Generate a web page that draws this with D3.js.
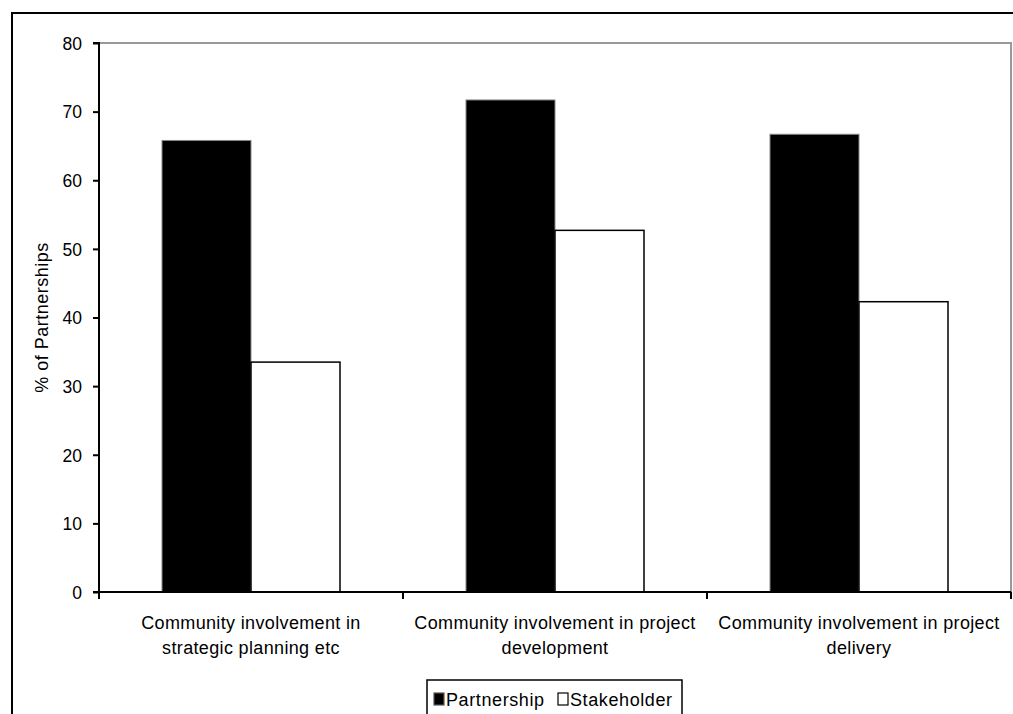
<!DOCTYPE html>
<html>
<head>
<meta charset="utf-8">
<script src="https://cdn.jsdelivr.net/npm/d3@7"></script>
<style>
  html, body { margin: 0; padding: 0; background: #fff; }
  svg { display: block; font-family: "Liberation Sans", Arial, sans-serif; }
</style>
</head>
<body>
<svg id="chart" width="1013" height="714"></svg>
<script>
// Share of partnerships reporting each type of community involvement
const categories = [
  ["Community involvement in", "strategic planning etc"],
  ["Community involvement in project", "development"],
  ["Community involvement in project", "delivery"]
];
const seriesNames = ["Partnership", "Stakeholder"];
const partnership = [65.8, 71.7, 66.7];
const stakeholder = [33.5, 52.7, 42.3];
const yTicks = [0, 10, 20, 30, 40, 50, 60, 70, 80];

const svg = d3.select("#chart");
const plot = { left: 99, right: 1011, top: 43, bottom: 592 };

// Outer chart frame (extends past the visible window)
svg.append("rect")
  .attr("x", 12).attr("y", 13)
  .attr("width", 1040).attr("height", 760)
  .attr("fill", "none").attr("stroke", "#000").attr("stroke-width", 2);

const x = d3.scaleBand()
  .domain(d3.range(categories.length))
  .range([plot.left, plot.right])
  .paddingInner(0).paddingOuter(0);

const y = d3.scaleLinear().domain([0, 80]).range([plot.bottom, plot.top]);

// Plot area border (grey top and right edges)
svg.append("path")
  .attr("d", `M${plot.left},${plot.top}H${plot.right}V${plot.bottom}`)
  .attr("fill", "none").attr("stroke", "#999").attr("stroke-width", 2);

const gap = 63;
const barW = (x.bandwidth() - 2 * gap) / 2;

const groups = svg.append("g").selectAll("g")
  .data(d3.range(categories.length))
  .join("g");

groups.append("rect")
  .attr("x", i => x(i) + gap)
  .attr("y", i => y(partnership[i]))
  .attr("width", barW)
  .attr("height", i => y(0) - y(partnership[i]))
  .attr("fill", "#000")
  .attr("stroke", "#888").attr("stroke-width", 1);

groups.append("rect")
  .attr("x", i => x(i) + gap + barW)
  .attr("y", i => y(stakeholder[i]))
  .attr("width", barW)
  .attr("height", i => y(0) - y(stakeholder[i]))
  .attr("fill", "#fff")
  .attr("stroke", "#000").attr("stroke-width", 1.5);

// Y axis
const yAxis = d3.axisLeft(y).tickValues(yTicks).tickSize(6).tickPadding(11);
const gy = svg.append("g")
  .attr("transform", `translate(${plot.left},0)`)
  .call(yAxis);
gy.select(".domain").attr("stroke", "#000").attr("stroke-width", 2)
  .attr("d", `M-6,${plot.top}H0V${plot.bottom}H-6`);
gy.selectAll(".tick line").attr("stroke", "#000").attr("stroke-width", 2);
gy.selectAll(".tick text")
  .attr("font-size", 17.5).attr("fill", "#000")
  .attr("dy", "0.36em")
  .attr("font-family", "'Liberation Sans', Arial, sans-serif");

// X axis: baseline with tick marks at the category boundaries
const gx = svg.append("g");
gx.append("line")
  .attr("x1", plot.left).attr("x2", plot.right)
  .attr("y1", y(0)).attr("y2", y(0))
  .attr("stroke", "#000").attr("stroke-width", 2);
gx.selectAll("line.tick")
  .data(d3.range(categories.length + 1))
  .join("line").attr("class", "tick")
  .attr("x1", i => i < categories.length ? x(i) : plot.right)
  .attr("x2", i => i < categories.length ? x(i) : plot.right)
  .attr("y1", y(0)).attr("y2", y(0) + 7)
  .attr("stroke", "#000").attr("stroke-width", 2);

// Category labels
const lbl = svg.append("g").selectAll("text")
  .data(categories)
  .join("text")
  .attr("x", (d, i) => x(i) + x.bandwidth() / 2)
  .attr("y", 629)
  .attr("text-anchor", "middle")
  .attr("font-size", 18)
  .attr("letter-spacing", 0.35)
  .attr("fill", "#000");
lbl.selectAll("tspan")
  .data(d => d)
  .join("tspan")
  .attr("x", function() { return this.parentNode.getAttribute("x"); })
  .attr("dy", (d, j) => j === 0 ? 0 : 25)
  .text(d => d);

// Y axis title
svg.append("text")
  .attr("transform", `translate(48,${(plot.top + plot.bottom) / 2}) rotate(-90)`)
  .attr("text-anchor", "middle")
  .attr("font-size", 18)
  .attr("letter-spacing", 0.5)
  .attr("fill", "#000")
  .text("% of Partnerships");

// Legend
const legend = svg.append("g");
legend.append("rect")
  .attr("x", 427).attr("y", 680)
  .attr("width", 255).attr("height", 50)
  .attr("fill", "#fff").attr("stroke", "#000").attr("stroke-width", 1.5);
const legendX = [434, 558];
seriesNames.forEach((name, i) => {
  legend.append("rect")
    .attr("x", legendX[i]).attr("y", 693)
    .attr("width", 10).attr("height", 12)
    .attr("fill", i === 0 ? "#000" : "#fff")
    .attr("stroke", i === 0 ? "#555" : "#000").attr("stroke-width", 1.2);
  legend.append("text")
    .attr("x", legendX[i] + 12).attr("y", 706)
    .attr("font-size", 18)
    .attr("letter-spacing", 0.6)
    .attr("fill", "#000")
    .text(name);
});
</script>
</body>
</html>
